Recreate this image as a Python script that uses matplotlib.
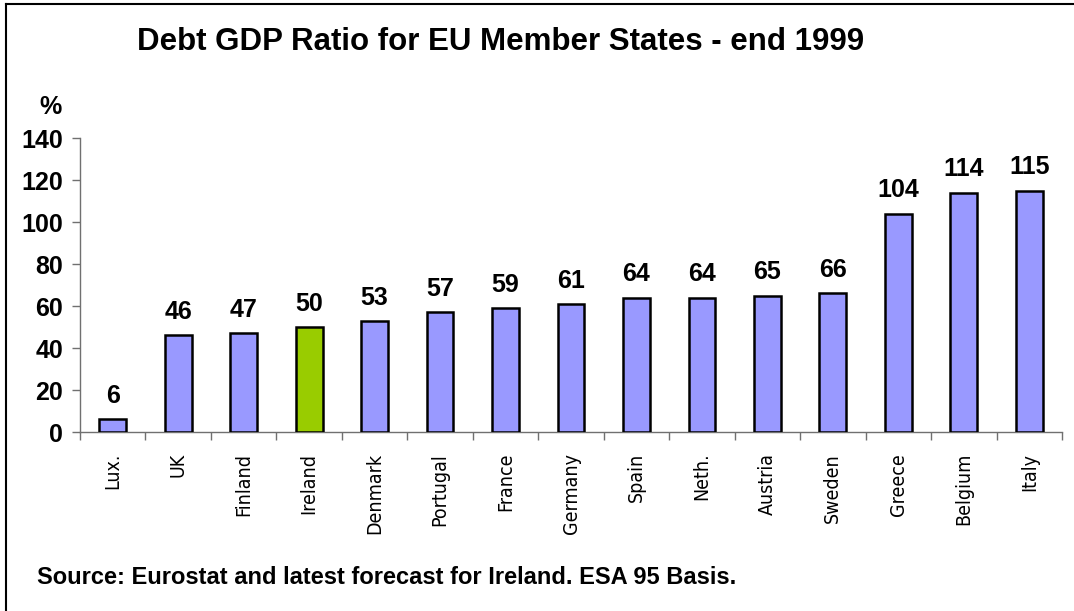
import matplotlib
matplotlib.use("Agg")
import matplotlib.pyplot as plt
from matplotlib import font_manager as fm
from matplotlib.lines import Line2D

countries = ["Lux.", "UK", "Finland", "Ireland", "Denmark", "Portugal", "France",
             "Germany", "Spain", "Neth.", "Austria", "Sweden", "Greece", "Belgium", "Italy"]
debt_ratio = [6, 46, 47, 50, 53, 57, 59, 61, 64, 64, 65, 66, 104, 114, 115]
highlight = "Ireland"
y_ticks = [0, 20, 40, 60, 80, 100, 120, 140]

title = "Debt GDP Ratio for EU Member States - end 1999"
source = "Source: Eurostat and latest forecast for Ireland. ESA 95 Basis."

BLUE = "#9999FF"
GREEN = "#99CC00"

# look for a condensed sans font for the category labels
cond_family = None
cond_stretch = "normal"
for f in fm.fontManager.ttflist:
    st = str(f.stretch)
    if ("ondensed" in st or "arrow" in st or "Narrow" in f.name or "Condensed" in f.name) and f.weight in (400, "normal", "regular", "book"):
        cond_family = f.name
        cond_stretch = f.stretch
        break

plt.rcParams["font.family"] = ["Liberation Sans", "DejaVu Sans"]

fig = plt.figure(figsize=(10.74, 6.11), dpi=100)
ax = fig.add_axes([80 / 1074, 1 - 432 / 611, (1062 - 80) / 1074, (432 - 138) / 611])

xs = [i + 0.5 for i in range(len(countries))]
colors = [GREEN if c == highlight else BLUE for c in countries]
bars = ax.bar(xs, debt_ratio, width=0.41, color=colors, edgecolor="black", linewidth=1.8, zorder=3)

for x, v in zip(xs, debt_ratio):
    ax.annotate(f"{v}", (x, v), xytext=(0, 8), textcoords="offset points",
                ha="center", va="bottom", fontsize=18, fontweight="bold")

ax.set_xlim(0, len(countries))
ax.set_ylim(0, 140)
ax.set_yticks(y_ticks)
ax.set_yticklabels([str(t) for t in y_ticks], fontsize=18, fontweight="bold")

ax.set_xticks(range(len(countries) + 1))
ax.set_xticklabels([])
ax.set_xticks(xs, minor=True)
if cond_family:
    lab_kw = dict(family=cond_family, stretch=cond_stretch, fontsize=14)
else:
    lab_kw = dict(family="DejaVu Sans", fontsize=11.5)
ax.set_xticklabels(countries, minor=True, rotation=90, va="top", ha="center", **lab_kw)
ax.tick_params(axis="x", which="minor", length=0, pad=15)
ax.tick_params(axis="x", which="major", direction="out", length=6, color="#707070", width=1)
ax.tick_params(axis="y", direction="out", length=6, color="#707070", width=1, pad=6)

for s in ["top", "right"]:
    ax.spines[s].set_visible(False)
for s in ["left", "bottom"]:
    ax.spines[s].set_color("#707070")
    ax.spines[s].set_linewidth(1)

fig.text(501 / 1074, 1 - 42 / 611, title, ha="center", va="center", fontsize=22.5, fontweight="bold")
fig.text(51 / 1074, 1 - 107 / 611, "%", ha="center", va="center", fontsize=18, fontweight="bold")
fig.text(37 / 1074, 1 - 577 / 611, source, ha="left", va="center", fontsize=17, fontweight="bold")

# figure frame (left and top edges)
fig.add_artist(Line2D([6 / 1074, 6 / 1074], [0, 1 - 4 / 611], transform=fig.transFigure, color="black", linewidth=1.5))
fig.add_artist(Line2D([6 / 1074, 1], [1 - 4 / 611, 1 - 4 / 611], transform=fig.transFigure, color="black", linewidth=1.5))

fig.savefig("out.png", dpi=100)
